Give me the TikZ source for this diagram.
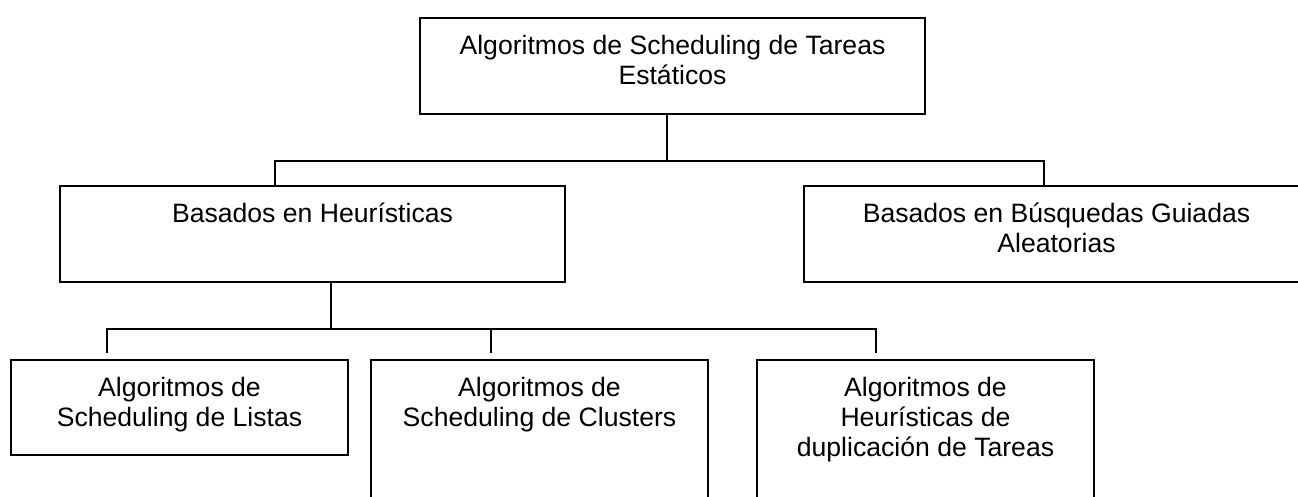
\documentclass[tikz,border=0pt]{standalone}
\usepackage{fontspec}
\setmainfont{Liberation Sans}
\usetikzlibrary{calc}
\newcommand\bxt[3]{\parbox[c][#2pt][t]{#1pt}{\centering\fontsize{26.6}{30}\selectfont\rule{0pt}{36pt}#3}}
\begin{document}
\begin{tikzpicture}[x=1pt,y=-1pt,
  box/.style={draw, line width=2pt, inner sep=0pt, anchor=north west},
  conn/.style={line width=2pt}]
\useasboundingbox (0,0) rectangle (1298,496);
\clip (0,0) rectangle (1298,496);
\fill[white] (0,0) rectangle (1298,496);
% boxes
\node[box] (top) at (419,17) {\bxt{505}{96}{Algoritmos de Scheduling de Tareas\\Estáticos}};
\node[box] (heur) at (59,185) {\bxt{505}{96}{Basados en Heurísticas}};
\node[box] (rand) at (803,185) {\bxt{505}{96}{Basados en Búsquedas Guiadas\\Aleatorias}};
\node[box] (lists) at (10,359) {\bxt{337}{95}{Algoritmos de\\Scheduling de Listas}};
\node[box] (clus) at (370,359) {\bxt{337}{160}{Algoritmos de\\Scheduling de Clusters}};
\node[box] (dup) at (756,359) {\bxt{337}{160}{Algoritmos de\\Heurísticas de\\duplicación de Tareas}};
% junction coordinates
\coordinate (j1) at (667,161);
\coordinate (b1) at (275,161);
\coordinate (b2) at (1044,161);
\coordinate (j2) at (331,329);
\coordinate (c1) at (107,353);
\coordinate (c2) at (491,353);
\coordinate (c3) at (876,353);
% connectors
\draw[conn] (top.south -| j1) -- (j1);
\draw[conn] (heur.north -| b1) -- (b1) -- (b2) -- (rand.north -| b2);
\draw[conn] (heur.south -| j2) -- (j2);
\draw[conn] (c1) -- (c1 |- j2) -- (c3 |- j2) -- (c3);
\draw[conn] (c2 |- j2) -- (c2);
\end{tikzpicture}
\end{document}
